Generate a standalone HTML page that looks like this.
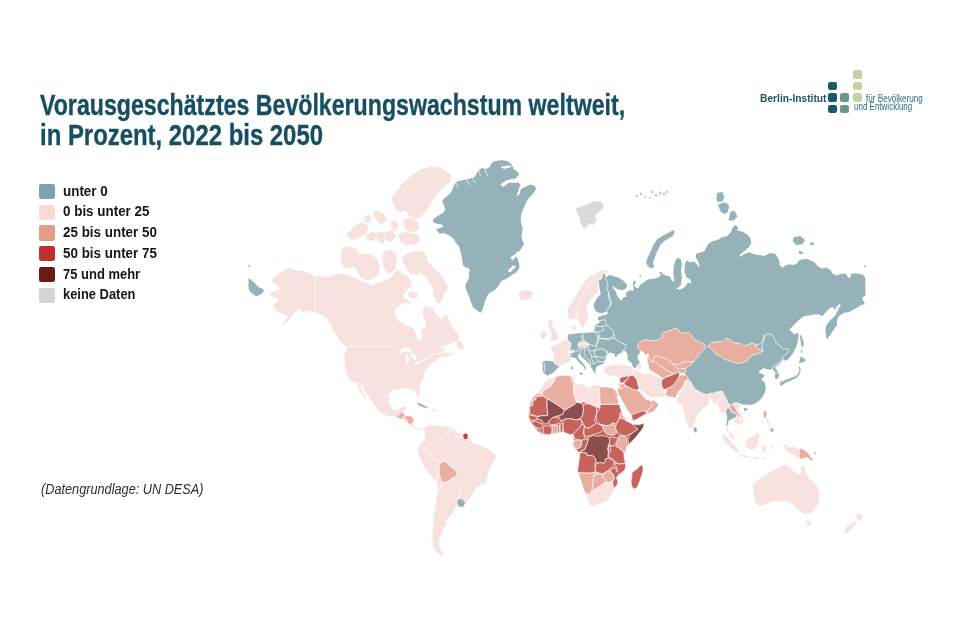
<!DOCTYPE html>
<html lang="de">
<head>
<meta charset="utf-8">
<title>Vorausgeschätztes Bevölkerungswachstum weltweit</title>
<style>
html,body{margin:0;padding:0;background:#fff;}
body{width:960px;height:640px;position:relative;overflow:hidden;font-family:"Liberation Sans",sans-serif;}
#map{position:absolute;left:0;top:0;width:960px;height:640px;}
#map path{stroke:#fff;stroke-width:0.7;stroke-linejoin:round;}
#map path.n{stroke:none;}
#map path.l{fill:none;stroke:#fff;stroke-linecap:round;}
.title{position:absolute;left:39.5px;top:0;margin:0;font-weight:bold;font-size:29px;line-height:32px;color:#174e62;-webkit-text-stroke:0.35px #174e62;white-space:nowrap;}
.title span{position:absolute;left:0;display:block;transform-origin:0 0;}
.title .l1{top:89px;transform:scaleX(0.7985);}
.title .l2{top:119.2px;transform:scaleX(0.8243);}
.legend{position:absolute;left:39px;top:183.8px;margin:0;padding:0;list-style:none;}
.legend li{height:20.8px;position:relative;white-space:nowrap;}
.legend i{position:absolute;left:0;top:0;width:15.5px;height:15.3px;border-radius:2.2px;display:block;}
.legend span{position:absolute;left:24.3px;top:-1.3px;font-size:14.5px;line-height:17px;font-weight:bold;color:#161616;transform-origin:0 0;transform:scaleX(0.925);display:block;}
.foot{position:absolute;left:40.5px;top:481.3px;font-style:italic;font-size:14px;line-height:17px;color:#2e2e2e;white-space:nowrap;transform-origin:0 0;transform:scaleX(0.908);}
.logo{position:absolute;left:0;top:0;}
.logo b{position:absolute;display:block;width:9px;height:8.5px;border-radius:2.2px;}
.logo .t1{position:absolute;left:760.2px;top:91.7px;font-size:11.5px;line-height:13px;font-weight:bold;color:#1d5468;white-space:nowrap;transform-origin:0 0;transform:scaleX(0.89);}
.logo .t2{position:absolute;left:865.6px;top:92px;font-size:10.5px;line-height:12px;color:#2d6d80;white-space:nowrap;transform-origin:0 0;transform:scaleX(0.773);}
.logo .t3{position:absolute;left:853.8px;top:100.3px;font-size:10.5px;line-height:12px;color:#2d6d80;white-space:nowrap;transform-origin:0 0;transform:scaleX(0.762);}
</style>
</head>
<body>
<svg id="map" viewBox="0 0 960 640" width="960" height="640">
<path class="n" d="M605.6,277.1L606.9,276.8L607.9,275.7L610.0,275.0L612.5,275.7L614.6,276.8L617.4,277.1L620.2,278.5L623.1,280.6L623.8,281.3L625.5,282.9L626.6,284.3L627.1,286.0L626.6,287.6L625.2,289.0L623.4,290.0L621.0,290.0L618.7,289.5L616.3,288.6L614.0,287.1L611.9,286.2L613.0,288.1L614.7,290.2L616.1,292.1L616.6,294.4L616.8,296.8L617.7,298.4L619.4,299.6L621.0,300.3L622.4,299.6L622.9,298.2L624.1,297.2L625.7,297.0L626.6,296.1L625.9,294.4L626.2,293.0L627.3,291.8L629.0,290.7L630.2,290.0L631.6,290.7L632.7,291.1L633.4,289.5L633.7,287.6L633.2,285.7L632.7,284.1L633.2,282.2L633.7,280.8L634.6,280.6L635.8,281.5L636.0,282.7L634.8,283.6L634.1,285.0L634.8,286.4L636.0,287.6L637.4,288.1L638.8,287.4L639.5,285.7L640.7,284.6L642.3,283.4L644.0,282.2L645.4,281.0L646.0,280.6L648.4,279.6L650.0,278.9L654.1,278.8L658.3,277.4L661.1,275.3L659.0,272.5L661.1,271.8L662.5,273.9L665.4,275.3L670.0,276.7L671.6,280.3L674.4,282.2L673.4,273.8L673.4,268.1L675.3,260.6L678.1,257.8L680.9,259.7L681.9,264.4L680.9,270.0L681.9,277.5L680.9,285.0L676.3,288.8L680.0,289.7L684.7,286.9L688.4,282.2L691.3,284.1L690.3,279.4L686.6,277.5L684.7,271.9L684.7,264.4L686.6,260.6L690.3,262.5L694.1,261.6L696.9,264.4L699.7,268.1L698.8,262.5L695.9,257.8L695.9,254.1L700.6,252.2L704.4,251.3L706.3,247.5L708.1,243.8L712.8,240.9L717.5,240.0L722.2,237.2L726.9,236.3L730.6,232.5L732.5,227.8L735.3,225.0L738.1,226.9L737.2,230.6L741.9,231.6L747.5,234.4L750.3,238.1L751.3,242.8L749.4,246.6L745.6,250.3L741.9,253.1L738.1,256.9L740.9,255.9L744.7,254.1L749.4,252.2L753.1,254.1L758.8,255.0L764.4,255.9L770.0,253.1L775.6,254.1L778.4,258.8L779.9,262.5L779.0,264.2L782.5,267.7L785.3,265.6L788.8,264.2L793.1,264.9L797.3,263.5L798.3,260.7L800.0,260.0L806.2,258.8L812.5,261.2L814.9,262.8L817.7,266.3L821.9,268.4L826.1,267.7L830.3,269.8L832.5,273.4L836.0,275.5L840.9,274.1L845.8,273.4L847.9,276.9L850.0,278.3L851.4,273.4L857.1,273.4L862.7,274.8L865.2,277.6L865.5,295.2L862.0,298.0L864.1,302.2L864.8,304.3L861.3,305.0L857.1,307.8L852.8,309.9L849.3,312.1L844.4,312.8L841.6,314.2L838.8,316.3L837.4,319.1L836.7,321.9L837.1,324.7L835.3,327.5L833.2,330.3L831.0,333.9L828.9,336.7L826.8,339.5L825.8,334.6L825.4,330.3L826.1,326.1L828.2,322.6L831.0,319.8L833.9,317.0L836.0,314.2L837.4,311.3L838.8,308.5L840.2,305.7L840.9,304.3L838.8,304.3L836.7,307.1L834.6,309.9L833.2,307.1L830.3,307.8L827.5,310.6L824.7,313.5L821.9,316.3L819.1,314.2L815.6,314.2L812.1,314.9L808.5,315.6L803.6,316.3L800.1,319.1L796.1,322.8L792.6,326.3L789.1,329.8L791.9,332.0L794.7,334.8L796.8,332.7L798.7,334.1L798.3,337.8L797.9,340.6L797.2,343.4L796.5,346.3L795.1,349.1L793.7,351.9L791.9,354.7L790.2,356.8L788.4,358.9L786.7,360.3L784.9,360.7L783.5,359.6L770.0,370.0L700.0,350.0L640.0,350.0L613.0,345.0L613.0,318.0L610.0,311.0L607.0,300.0Z" fill="#96b2b9"/>
<path class="n" d="M783.5,359.6L782.8,359.3L781.7,361.0L780.3,362.8L778.9,364.2L777.5,365.2L776.1,366.3L775.0,367.4L775.7,368.8L776.8,370.2L777.9,371.6L778.6,373.3L778.9,375.4L778.6,377.2L777.5,378.6L776.1,379.0L775.0,377.9L774.9,375.8L775.3,373.7L774.7,371.6L773.6,370.2L772.6,368.8L772.2,367.7L771.2,368.1L769.8,367.0L768.4,366.3L767.0,365.9L765.6,366.3L764.1,367.4L762.7,368.8L761.0,369.8L759.2,370.9L758.9,372.3L760.3,373.3L762.0,373.7L763.4,374.4L764.5,375.8L763.4,377.2L762.0,378.6L761.3,380.0L763.8,381.2L765.2,384.0L765.9,387.5L765.2,391.0L763.8,394.6L761.7,398.1L758.8,400.9L756.0,403.0L752.5,404.4L749.0,405.1L745.5,404.4L742.0,404.4L739.8,403.0L736.2,403.8L731.2,405.0L727.5,403.8L726.2,399.5L723.8,397.0L720.0,394.5L715.0,396.8L710.0,396.0L703.8,394.2L698.8,391.8L693.8,388.0L690.0,383.0L685.0,376.2L685.0,365.0L677.5,352.5L715.0,340.0L765.0,335.0L790.0,340.0Z" fill="#96b2b9"/>
<path class="n" d="M605.6,277.1L605.5,274.3L604.1,273.3L602.7,274.3L602.0,277.1L600.6,279.6L598.4,280.3L597.4,279.9L598.1,281.7L598.8,284.5L599.5,287.3L599.8,290.1L600.6,292.9L600.2,295.1L598.4,296.5L596.3,299.3L594.9,302.1L593.9,304.9L594.2,307.0L593.9,306.3L595.0,310.5L597.8,312.6L601.3,313.3L605.6,311.9L608.4,312.6L606.3,314.7L602.8,315.4L598.5,316.8L597.8,319.6L599.9,321.7L598.5,323.2L594.3,326.0L595.0,328.8L594.3,329.5L594.7,333.0L592.2,332.3L585.2,333.0L582.4,333.0L580.2,333.0L575.3,333.7L571.1,334.1L569.0,334.4L568.0,334.5L567.7,337.3L568.0,340.8L568.7,345.0L569.4,348.5L569.8,352.8L569.9,356.3L570.3,357.1L571.6,357.8L573.3,357.5L575.4,358.1L576.7,359.6L578.1,361.3L579.6,363.0L581.3,364.3L583.0,366.0L584.3,368.1L584.7,369.8L585.7,369.3L585.5,367.2L584.3,365.1L582.2,362.6L580.1,360.5L578.4,358.4L577.8,356.3L578.1,354.1L580.1,355.0L581.7,356.7L583.0,358.1L584.7,359.6L586.4,361.3L588.1,362.6L589.3,363.9L590.2,365.5L591.0,367.2L592.3,368.9L593.1,370.6L594.4,372.3L595.0,374.4L595.7,373.1L595.3,371.0L596.1,369.8L595.7,368.1L596.9,366.8L598.6,365.5L600.7,364.7L602.8,363.9L604.1,363.0L604.5,361.3L605.4,359.2L606.2,357.1L607.5,355.0L608.8,353.3L610.0,352.5L612.1,352.9L614.2,354.1L615.1,355.4L615.1,356.9L616.6,356.9L616.9,355.2L618.9,354.1L621.0,352.9L622.7,351.6L624.4,350.8L626.1,351.6L626.9,353.7L628.0,355.4L627.2,358.4L629.1,361.3L631.0,362.2L631.9,363.1L632.4,365.9L634.7,368.3L636.1,367.8L637.1,365.9L638.5,364.1L639.9,362.7L638.9,360.8L637.5,358.4L637.5,356.1L639.4,353.3L650.0,330.0L620.0,300.0L604.0,274.0Z" fill="#96b2b9"/>
<path d="M542.0,361.9L544.1,360.5L548.3,360.5L553.2,361.2L558.1,361.9L560.9,363.3L559.5,366.1L557.4,368.9L555.3,371.0L553.2,373.2L550.4,374.6L547.6,376.0L545.5,374.6L543.4,373.9L542.0,370.3L542.4,366.1Z" fill="#96b2b9"/>
<path d="M579.6,372.7L582.6,373.1L582.2,374.4L580.1,374.0Z" fill="#96b2b9" style="stroke:#96b2b9;stroke-width:0.5"/>
<path d="M571.6,366.4L572.9,366.4L572.9,369.3L571.8,369.3Z" fill="#96b2b9" style="stroke:#96b2b9;stroke-width:0.5"/>
<path d="M568.3,318.9L567.6,314.7L566.9,310.5L569.0,306.3L571.8,302.1L574.6,297.8L577.4,292.9L580.2,288.0L583.1,283.8L585.9,279.5L590.1,275.3L594.3,272.5L592.8,276.1L595.6,274.0L598.4,271.8L601.3,270.4L604.1,269.4L606.9,269.7L609.0,270.8L607.9,272.6L605.8,273.3L604.1,272.9L602.7,274.0L602.0,277.1L600.6,279.6L598.4,280.3L597.4,279.9L598.1,281.7L598.8,284.5L597.8,292.2L595.0,295.0L592.2,298.5L589.4,302.8L587.3,306.3L586.9,310.5L588.0,314.7L589.4,317.5L587.3,320.3L585.2,323.2L584.5,326.7L582.4,328.1L580.2,326.0L578.8,322.5L577.4,318.9L576.0,316.1L575.3,320.3L573.2,319.6L571.1,318.9Z" fill="#f8e2e0"/>
<path class="l" d="M576.0,316.1L577.4,311.9L578.1,306.3L580.2,300.6L582.4,295.0L585.2,289.4L588.7,284.5L592.2,280.2L595.0,278.1L597.8,276.7" stroke-width="0.8"/>
<path class="l" d="M605.5,277.1L605.8,279.6L607.2,282.4L607.9,284.5L606.9,287.3L607.6,290.1L608.6,292.9L608.3,295.8L608.6,298.6L610.0,301.4L611.1,303.5L610.4,305.6L609.7,307.0" stroke-width="0.8"/>
<path class="l" d="M608.4,292.2L609.8,297.1L611.2,302.1L609.8,305.6L607.7,309.1L606.3,311.9" stroke-width="0.8"/>
<circle cx="640.3" cy="276.4" r="0.9" fill="#96b2b9"/>
<path d="M550.9,346.5L555.9,344.3L560.6,342.4L564.4,339.4L568.1,340.1L571.1,343.1L570.4,347.8L568.5,351.6L570.0,355.3L571.9,359.1L570.0,361.9L566.3,363.0L562.5,364.9L558.8,365.8L555.0,363.9L553.1,360.0L554.1,355.3L552.2,351.6L550.1,349.1Z" fill="#f8e2e0"/>
<path d="M548.3,321.1L551.1,319.7L552.5,322.5L551.8,326.0L553.9,328.8L556.0,331.7L558.1,335.2L558.8,338.7L556.7,340.1L553.2,340.8L550.4,341.5L551.8,338.7L551.1,335.9L552.5,333.8L550.4,331.7L549.7,328.1L548.3,325.3Z" fill="#f8e2e0" style="stroke:#f8e2e0;stroke-width:0.5"/>
<path d="M541.3,333.1L544.1,330.9L546.6,332.1L546.9,335.2L544.8,338.0L542.0,338.7L540.6,335.9Z" fill="#f8e2e0" style="stroke:#f8e2e0;stroke-width:0.5"/>
<path d="M578.1,343.2L580.1,341.9L583.0,341.5L586.0,342.8L588.5,344.0L587.7,345.7L585.1,346.6L582.2,347.0L579.6,346.1L578.1,344.9Z" fill="#f8e2e0"/>
<path d="M569.5,350.8L571.6,349.9L573.7,350.3L574.1,352.0L572.0,352.9L569.9,352.5Z" fill="#f8e2e0"/>
<path d="M572.2,326.0L575.0,325.3L575.7,329.5L572.9,330.2Z" fill="#f8e2e0" style="stroke:#f8e2e0;stroke-width:0.5"/>
<path d="M518.8,294.1L520.9,292.0L524.4,290.6L528.6,290.6L532.1,292.0L532.8,294.8L530.0,297.6L525.8,299.7L522.3,300.0L519.5,297.6Z" fill="#f8e2e0" style="stroke:#f8e2e0;stroke-width:0.5"/>
<path d="M555.0,377.0L559.2,375.9L563.5,375.6L567.7,375.3L571.2,376.3L574.0,375.6L575.4,378.4L574.7,381.3L576.1,384.1L580.3,384.1L584.6,385.5L588.1,387.6L591.6,386.9L594.4,384.8L597.9,385.5L601.4,386.9L605.7,387.2L609.9,387.6L613.4,388.3L614.8,391.1L614.6,387.5L616.0,391.0L617.4,395.2L618.1,399.5L618.8,403.7L620.2,407.9L621.7,412.1L623.1,415.6L625.2,418.5L628.0,421.3L630.8,423.4L632.2,424.1L637.8,424.8L644.2,423.4L643.5,426.9L641.3,430.4L638.5,433.9L635.0,438.2L631.5,441.7L628.7,444.5L627.5,446.2L626.1,449.7L624.7,453.2L624.0,456.7L624.7,460.2L625.8,463.8L625.4,467.3L624.0,470.8L621.2,472.9L618.4,475.0L616.3,477.8L617.7,480.6L617.7,484.2L615.6,486.3L614.2,488.4L613.2,491.9L611.3,495.4L608.5,498.9L605.0,501.7L600.8,503.2L596.6,504.6L592.4,506.0L589.5,505.3L588.1,501.7L586.7,497.5L585.3,494.0L583.9,489.8L582.5,485.6L581.1,481.3L579.7,477.1L578.0,472.9L577.6,469.4L578.3,465.2L579.0,460.2L579.7,456.7L579.0,452.5L576.9,451.1L574.1,447.6L572.9,444.1L573.4,440.6L573.3,436.8L571.9,434.0L569.1,434.7L566.3,433.3L563.5,431.9L559.9,432.6L555.7,433.3L551.5,434.0L547.3,434.7L543.8,434.7L540.9,433.3L538.1,431.2L535.3,428.4L533.2,425.6L531.1,422.8L529.0,419.2L528.3,415.7L529.7,412.2L529.0,408.0L529.7,404.5L531.1,400.2L533.2,396.7L536.0,393.9L538.8,391.1L541.7,387.6L543.8,384.1L545.9,380.6L548.7,378.4L552.2,378.4Z" fill="#c8625d"/>
<path d="M555.0,377.0L552.2,378.4L548.7,378.4L545.9,380.6L543.8,384.1L541.7,387.6L538.8,391.1L536.7,393.9L542.4,393.2L543.1,391.1L546.6,389.0L550.1,386.9L552.2,384.1L554.3,381.3Z" fill="#f8e2e0"/>
<path d="M536.7,393.9L533.2,396.7L531.1,400.2L529.7,404.5L529.0,405.9L532.5,405.5L533.2,400.2L536.0,399.8L536.7,396.0L542.4,395.3L542.4,393.2Z" fill="#e8afa0"/>
<path d="M554.3,381.3L552.2,384.1L550.1,386.9L546.6,389.0L543.1,391.1L542.4,395.3L547.3,398.8L552.2,401.7L557.8,405.2L562.8,408.7L566.3,409.4L569.8,407.3L574.7,404.5L576.8,402.4L575.4,398.1L574.0,393.9L573.3,389.7L574.0,385.5L572.6,382.0L571.9,378.4L571.2,376.3L567.7,375.3L563.5,375.6L559.2,375.9L555.0,377.0Z" fill="#e8afa0"/>
<path d="M571.2,376.3L574.0,375.6L575.4,378.4L574.7,381.3L576.1,384.1L574.7,385.5L574.0,383.4L572.6,379.8Z" fill="#f8e2e0"/>
<path d="M576.1,384.8L580.3,384.1L584.6,385.5L588.1,387.6L591.6,386.9L594.4,384.8L597.9,385.5L599.3,387.6L599.8,392.5L600.0,398.1L600.0,408.0L596.5,407.3L588.8,403.8L583.2,401.7L580.3,403.1L576.8,402.4L575.4,398.1L574.0,393.9L573.3,389.7L574.0,385.5Z" fill="#f8e2e0"/>
<path d="M599.3,387.6L601.4,386.9L605.7,387.2L609.9,387.6L613.4,388.3L614.8,391.1L615.5,393.9L616.9,397.4L618.3,400.9L619.0,404.2L600.0,404.2L599.8,392.5Z" fill="#e8afa0"/>
<path d="M536.0,396.7L542.4,396.0L547.3,398.8L546.9,404.5L547.3,410.8L548.0,415.0L545.9,415.7L541.7,415.7L537.4,416.4L533.9,415.0L531.1,414.3L529.7,412.2L529.7,406.6L532.5,405.5L533.2,400.2L536.0,399.8Z" fill="#c8625d"/>
<path d="M547.3,398.8L552.2,401.7L557.8,405.2L562.8,408.7L564.2,410.8L562.8,414.3L559.2,415.7L555.7,416.4L552.2,417.8L550.1,419.9L548.0,422.8L545.2,424.2L543.1,422.8L541.7,419.9L537.4,419.2L537.4,417.1L541.7,415.7L545.9,415.7L548.0,415.0L547.3,410.8L546.9,404.5Z" fill="#8c4e4c"/>
<path d="M566.3,409.4L569.8,407.3L574.7,404.5L576.8,402.4L580.3,403.1L583.2,404.5L583.4,410.8L582.5,415.7L580.3,418.5L576.8,419.9L572.6,419.2L568.4,418.5L564.9,419.2L561.3,420.6L558.5,419.2L559.2,415.7L562.8,414.3L564.2,410.8Z" fill="#8c4e4c"/>
<path d="M583.2,404.5L588.8,403.8L596.5,407.3L596.9,412.2L595.8,416.4L594.4,419.9L595.8,423.5L593.0,425.6L589.5,427.7L586.7,428.4L584.6,426.3L583.2,423.5L581.7,420.6L580.3,418.5L582.5,415.7L583.4,410.8Z" fill="#c8625d"/>
<path d="M600.0,404.5L619.0,404.5L620.4,408.0L621.8,411.5L621.1,415.0L619.0,418.5L617.6,421.3L614.8,424.2L612.7,422.8L609.2,425.6L605.7,425.6L602.1,424.9L599.3,423.5L597.2,421.3L596.1,417.8L596.9,412.2L600.0,408.0Z" fill="#c8625d"/>
<path d="M564.9,419.2L568.4,418.5L572.6,419.2L576.8,419.9L580.3,419.2L581.7,422.1L581.0,425.6L578.9,428.4L576.1,431.2L573.3,434.0L569.8,434.7L566.3,433.3L563.5,431.9L562.8,427.7L562.8,423.5L563.5,420.6Z" fill="#c8625d"/>
<path d="M550.1,419.9L552.2,417.8L555.7,417.1L559.2,418.5L561.3,420.6L559.2,423.5L555.7,424.2L552.2,424.9L549.4,424.2L548.7,422.1Z" fill="#c8625d"/>
<path d="M528.3,415.7L532.5,415.3L537.4,417.1L537.4,419.2L532.5,420.6L529.7,419.2Z" fill="#c8625d"/>
<path d="M531.1,422.1L535.3,421.3L539.5,422.8L543.1,424.2L541.7,427.7L538.8,429.1L536.0,427.0L533.2,425.6Z" fill="#c8625d"/>
<path d="M535.3,428.4L538.8,429.1L541.7,431.9L540.9,433.3L538.1,431.2Z" fill="#c8625d"/>
<path d="M543.8,426.3L548.0,425.6L551.5,426.3L552.2,430.5L551.5,434.0L547.3,434.7L543.8,434.0L543.1,429.8Z" fill="#c8625d"/>
<path d="M552.2,425.6L557.1,424.9L557.8,429.1L557.1,433.3L552.2,434.0L552.2,430.5Z" fill="#e8afa0"/>
<path d="M557.8,425.6L559.5,425.6L559.5,432.6L557.8,433.0Z" fill="#c8625d"/>
<path d="M559.9,424.2L562.8,423.5L562.8,431.9L560.4,432.6Z" fill="#c8625d"/>
<path d="M578.9,428.4L581.0,425.6L583.2,424.2L584.6,426.3L583.9,429.8L583.2,433.3L584.6,436.8L586.0,439.6L581.7,440.3L578.2,439.6L574.7,438.9L574.0,436.1L573.3,434.0L576.1,431.2Z" fill="#c8625d"/>
<path d="M584.6,426.3L586.7,428.4L589.5,427.7L593.0,425.6L595.8,423.5L599.3,424.2L602.1,425.6L603.6,429.1L601.4,431.9L597.9,433.3L594.4,434.0L591.6,435.4L588.1,436.1L585.3,436.8L583.9,433.3L583.9,429.8Z" fill="#c8625d"/>
<path d="M599.3,424.2L602.1,424.9L605.7,425.6L609.2,425.6L612.7,422.8L614.8,424.2L616.2,427.7L617.6,431.2L615.5,434.0L612.0,435.4L608.5,434.7L605.7,433.3L603.6,429.1L602.1,425.6Z" fill="#e8afa0"/>
<path d="M618.8,419.2L621.7,417.8L625.2,419.9L628.7,422.0L632.2,424.1L635.0,426.9L637.8,429.0L635.0,431.1L632.2,433.2L628.7,434.6L625.2,436.0L621.7,435.3L618.8,433.9L616.7,431.1L615.3,427.6L616.7,423.4Z" fill="#c8625d"/>
<path d="M620.2,412.8L621.7,412.1L623.1,415.6L625.2,418.5L628.0,421.3L626.9,421.7L624.5,419.6L621.7,417.8L619.5,418.2Z" fill="#e8afa0"/>
<path d="M632.2,424.1L637.8,424.8L644.2,423.4L643.5,426.9L641.3,430.4L638.5,433.9L635.0,438.2L631.5,441.7L628.7,444.5L628.0,439.6L629.4,435.3L632.2,433.2L635.0,431.1L637.8,429.0L635.0,426.9Z" fill="#8c4e4c"/>
<path d="M615.6,443.4L617.7,439.8L619.1,436.3L621.9,435.6L626.1,437.0L626.8,441.3L627.2,445.5L626.1,449.7L624.0,453.2L621.9,450.4L618.4,447.6Z" fill="#e8afa0"/>
<path d="M609.2,437.7L612.8,437.0L616.3,437.7L617.7,439.8L615.6,443.4L614.2,445.5L609.9,446.2L609.2,442.0Z" fill="#c8625d"/>
<path d="M588.8,437.0L592.4,435.6L597.3,436.3L602.2,435.6L606.4,436.3L609.2,437.7L609.9,441.3L608.5,444.8L607.8,448.3L608.5,452.5L607.8,456.0L608.5,458.1L605.7,458.8L605.0,461.7L603.6,463.8L600.8,462.4L598.0,463.1L595.9,461.7L595.2,458.1L593.1,456.0L590.2,455.3L587.4,456.0L586.7,453.2L583.2,452.5L579.7,452.5L581.1,451.1L584.6,449.7L586.0,446.2L587.4,442.7L588.1,439.1Z" fill="#8c4e4c"/>
<path d="M579.7,453.2L583.2,452.5L586.7,453.2L587.4,456.0L590.2,455.3L593.1,456.0L595.2,458.1L595.9,461.7L594.5,464.5L595.2,468.0L595.2,472.2L590.2,472.9L583.9,472.9L578.0,472.5L577.6,469.4L578.3,465.2L579.0,460.2L579.7,456.7Z" fill="#c8625d"/>
<path d="M595.9,464.5L598.0,463.1L600.8,462.4L603.6,463.8L605.0,461.7L605.7,458.8L608.5,458.1L611.3,459.5L614.2,461.7L613.5,465.9L611.3,468.0L608.5,470.1L605.7,472.2L602.2,473.6L598.7,472.9L595.9,471.5L595.2,468.0Z" fill="#c8625d"/>
<path d="M609.9,446.2L614.2,445.5L618.4,447.6L621.9,450.4L624.0,453.2L624.0,456.7L624.7,460.2L625.4,463.1L621.9,463.8L618.4,463.8L615.6,461.7L612.1,458.8L609.2,457.4L608.5,452.5L607.8,449.0Z" fill="#c8625d"/>
<path d="M614.2,462.4L618.4,464.0L621.9,463.8L625.4,463.5L625.8,467.3L624.0,470.8L621.2,472.9L618.4,475.0L616.3,477.8L617.7,480.6L617.7,484.2L615.6,486.3L614.2,488.4L612.8,486.3L612.8,482.1L614.2,478.5L613.5,475.0L611.3,472.2L609.9,470.1L613.5,468.0L615.6,467.3L616.3,470.8L617.7,472.2L617.0,468.0L615.6,465.2Z" fill="#c8625d"/>
<path d="M602.9,474.3L605.7,472.2L608.5,470.8L611.3,472.2L613.5,475.0L614.2,478.5L612.1,481.3L608.5,482.8L605.7,481.3L603.6,478.5Z" fill="#e8afa0"/>
<path d="M593.8,475.0L598.7,473.6L602.2,474.3L603.6,478.5L605.7,481.3L602.9,484.2L600.1,486.3L596.6,488.4L593.1,490.5L592.4,486.3L593.1,480.6Z" fill="#e8afa0"/>
<path d="M578.0,472.9L583.9,473.3L590.2,473.3L595.2,472.5L598.7,473.3L593.8,475.0L593.1,480.6L592.4,486.3L591.7,491.9L588.8,494.0L586.0,494.0L583.9,489.8L582.5,485.6L581.1,481.3L579.7,477.1Z" fill="#e8afa0"/>
<path d="M586.0,494.4L588.8,494.0L591.7,491.9L593.1,490.5L596.6,488.4L600.1,486.3L602.9,484.2L605.7,481.8L608.5,482.8L612.1,481.8L613.2,486.3L613.5,490.5L613.2,491.9L611.3,495.4L608.5,498.9L605.0,501.7L600.8,503.2L596.6,504.6L592.4,506.0L589.5,505.3L588.1,501.7L586.7,497.5Z" fill="#f8e2e0"/>
<circle cx="605.3" cy="496.1" r="1.6" fill="#f8e2e0" stroke="#fff" stroke-width="0.5"/>
<path d="M640.9,465.5L642.6,466.9L642.2,471.5L640.9,475.7L639.6,479.9L638.2,483.7L636.7,487.3L634.0,488.4L632.2,486.0L631.7,481.3L632.6,477.1L632.3,473.3L634.8,471.1L637.8,469.0L639.5,466.9Z" fill="#c8625d" style="stroke:#c8625d;stroke-width:0.6"/>
<path d="M573.4,440.6L577.6,439.8L581.1,440.6L581.8,444.1L580.4,447.6L576.9,449.0L574.1,447.6L572.9,444.1Z" fill="#e8afa0"/>
<path d="M581.1,440.6L585.3,439.1L588.1,439.1L587.4,442.7L586.0,446.2L584.6,449.7L581.1,451.1L579.0,452.5L576.9,451.1L576.9,449.0L580.4,447.6L581.8,444.1Z" fill="#c8625d"/>
<path d="M608.5,446.2L610.6,446.2L610.6,451.8L608.5,452.5Z" fill="#c8625d"/>
<path d="M603.8,368.3L605.2,367.4L607.5,365.9L610.3,365.0L613.1,364.5L616.9,364.1L620.6,364.5L624.4,365.0L628.1,365.5L631.9,365.9L633.3,367.4L634.4,369.7L634.7,372.5L632.6,374.4L629.5,375.3L627.2,375.7L624.4,376.5L621.4,377.0L619.3,378.1L617.8,376.8L615.0,376.3L612.2,375.7L609.4,376.1L607.0,375.1L605.2,373.3L603.8,371.1Z" fill="#f8e2e0"/>
<path d="M603.3,365.0L605.2,364.5L605.8,366.4L604.2,367.1Z" fill="#f8e2e0"/>
<path d="M636.1,367.8L637.1,365.9L638.5,364.1L640.3,363.1L641.3,365.9L641.7,368.8L640.3,370.2L638.0,369.7Z" fill="#f8e2e0"/>
<path d="M632.2,368.5L633.6,372.0L632.2,375.1L635.0,377.0L637.1,380.5L637.8,384.7L639.2,388.2L641.3,390.3L644.2,392.4L647.0,395.2L649.8,396.7L651.9,398.8L654.0,397.4L656.8,397.1L661.0,397.6L664.6,397.1L665.3,393.1L663.9,390.3L662.5,387.5L661.7,384.0L662.5,379.8L659.6,377.7L656.1,375.6L652.6,374.1L649.1,372.7L645.6,373.4L642.8,374.1L639.9,371.3L636.4,370.6L634.3,369.2Z" fill="#f8e2e0"/>
<path d="M620.2,385.4L624.5,386.1L628.7,387.5L633.6,389.6L637.8,390.3L639.9,392.4L642.8,395.2L644.9,398.1L647.0,400.2L648.4,398.8L649.8,400.9L652.6,400.2L654.7,400.9L657.5,403.0L658.9,405.1L656.8,407.9L654.7,410.0L652.6,412.1L649.8,413.5L647.0,412.8L644.2,414.9L640.6,417.1L637.1,419.2L633.6,420.6L632.2,419.2L630.8,414.9L628.7,412.1L626.6,408.6L624.5,405.1L622.4,401.6L620.2,397.4L618.1,393.1L617.4,389.6Z" fill="#e8afa0"/>
<path d="M631.5,414.9L635.0,413.5L639.2,412.1L642.8,410.7L646.3,412.1L647.0,413.5L644.2,414.9L640.6,417.1L637.1,419.2L633.6,420.6L632.2,419.2Z" fill="#c8625d"/>
<path class="l" d="M647.0,412.8L648.4,409.3L651.2,407.2L652.6,403.7L649.8,400.9" stroke-width="0.8"/>
<path d="M619.5,379.1L621.7,377.0L625.9,376.3L629.4,375.6L628.0,378.4L625.9,380.5L623.1,382.6L620.2,383.3Z" fill="#c8625d"/>
<path d="M629.4,375.6L632.2,375.1L635.0,377.0L637.1,380.5L637.8,384.7L639.2,388.2L637.1,390.3L633.6,389.6L629.4,387.5L625.2,385.4L623.8,383.3L625.9,380.5L628.0,378.4Z" fill="#c8625d"/>
<path d="M620.2,384.0L623.8,383.3L625.2,385.7L623.1,388.2L619.8,388.9Z" fill="#e8afa0"/>
<path d="M618.1,383.0L620.0,383.0L619.7,388.6L618.6,388.2Z" fill="#e8afa0"/>
<path d="M637.7,345.2L640.6,341.7L644.8,339.6L649.7,340.3L653.9,341.0L658.1,339.6L661.7,337.5L661.7,334.0L665.2,331.9L670.1,330.5L675.0,328.4L678.5,329.8L681.3,332.6L685.6,333.3L688.4,331.9L691.2,334.7L694.0,338.9L697.5,341.0L701.0,342.4L704.6,344.5L706.7,346.7L703.2,350.2L700.3,352.3L698.9,355.8L696.1,358.6L694.0,361.4L691.9,364.2L688.4,366.3L685.6,368.5L685.6,371.3L684.2,373.4L680.6,373.4L677.8,372.0L675.0,373.4L672.2,374.8L668.7,375.5L665.9,376.9L663.8,379.0L662.4,378.3L658.8,375.5L655.3,373.4L651.8,371.3L649.0,369.2L648.3,365.6L648.3,363.5L646.9,360.0L647.6,357.2L649.0,355.1L647.6,353.7L645.5,355.8L643.4,352.3L639.8,350.2L637.7,348.1Z" fill="#e8afa0"/>
<path class="l" d="M647.6,357.2L649.7,358.6L651.1,362.1L653.2,361.4L653.9,356.5L657.4,355.8L661.7,357.2L665.2,358.6L668.7,360.0L671.5,362.8L675.0,364.2L678.5,364.9L682.1,362.8L686.3,361.4L690.5,362.1L694.0,361.4" stroke-width="0.8"/>
<path class="l" d="M653.2,361.4L656.7,362.8L660.2,365.6L663.8,368.5L667.3,370.6L670.8,372.0L673.6,373.4" stroke-width="0.8"/>
<path class="l" d="M671.5,362.8L673.6,365.6L676.4,367.8L679.2,369.2L682.1,368.5L685.6,368.5" stroke-width="0.8"/>
<path d="M661.8,380.0L665.9,377.2L670.1,375.8L674.3,374.1L679.0,371.8L679.9,375.5L678.4,379.4L676.1,382.5L673.9,385.3L671.1,387.5L667.3,389.0L663.5,389.6L661.9,386.5L661.5,383.2Z" fill="#c8625d"/>
<path d="M679.2,375.5L682.8,374.8L686.3,375.5L688.4,378.3L686.3,381.1L684.2,384.6L682.1,388.2L679.2,391.0L677.1,394.5L675.7,398.0L672.2,397.3L668.0,396.6L665.2,395.2L665.9,391.7L667.3,388.2L670.8,386.7L673.6,384.6L675.7,381.8L677.8,379.0Z" fill="#e8afa0"/>
<path d="M708.0,346.0L711.6,343.0L717.0,341.7L722.8,341.7L726.4,338.2L729.0,339.0L731.3,341.7L736.0,343.0L741.0,343.8L743.4,346.0L748.3,344.6L752.5,343.2L756.0,344.6L757.4,348.0L760.0,349.5L763.0,351.0L760.0,353.0L756.7,353.8L753.0,355.0L749.7,357.3L747.0,360.8L743.4,362.2L739.0,363.6L732.7,362.0L728.5,360.7L724.0,359.0L721.0,356.5L717.0,355.0L713.7,352.0L711.6,348.8Z" fill="#e8afa0"/>
<path d="M684.8,381.3L688.3,379.8L691.1,382.0L692.5,385.5L694.6,389.0L698.1,391.1L702.4,393.2L706.6,394.6L710.1,393.2L713.6,393.2L717.8,391.8L722.1,391.1L724.2,393.9L722.8,397.4L719.9,399.5L717.8,402.4L715.0,404.5L712.9,403.8L711.5,400.2L710.1,398.1L708.0,400.2L709.4,403.8L707.3,405.2L704.5,408.0L701.7,410.8L698.8,413.6L697.0,416.4L695.7,419.9L694.5,424.2L692.8,427.7L690.5,429.4L688.3,427.0L686.9,423.5L685.8,419.9L684.6,416.4L683.4,412.2L682.4,408.0L682.0,404.5L679.1,403.8L676.3,401.7L677.0,398.1L679.1,396.0L677.7,393.9L680.6,391.1L682.7,387.6L684.1,384.1Z" fill="#f8e2e0"/>
<path d="M717.8,402.4L719.9,399.5L722.8,397.4L724.9,396.0L726.3,398.8L727.7,402.4L729.8,405.2L728.4,407.3L726.3,408.7L725.6,411.5L726.3,415.0L727.0,418.5L726.3,421.3L725.1,417.8L724.2,414.3L722.8,412.2L720.6,413.6L719.2,410.8L718.5,407.3L717.1,405.2Z" fill="#f8e2e0"/>
<path d="M726.3,408.7L728.4,407.7L730.5,409.4L731.9,412.2L734.7,412.9L736.8,415.0L736.1,417.8L733.3,418.5L731.2,419.9L729.1,420.6L728.4,424.2L727.0,426.3L727.7,429.8L729.1,431.9L728.0,432.6L726.6,429.8L726.0,425.6L726.3,421.3L727.0,418.5L726.3,415.0L725.6,411.5Z" fill="#96b2b9"/>
<path d="M729.8,405.2L732.6,404.5L734.7,405.9L736.1,408.7L737.5,411.5L739.6,414.3L740.3,417.1L738.2,417.8L736.8,415.0L734.7,412.9L731.9,412.2L730.5,409.4L729.1,407.3Z" fill="#e8afa0"/>
<path d="M732.6,403.8L736.1,402.4L739.6,403.8L741.0,405.9L738.9,408.0L739.6,410.8L741.7,413.6L743.2,417.1L743.9,420.6L742.5,423.5L739.6,424.9L738.2,426.3L738.9,423.5L741.0,421.3L741.0,417.8L739.6,414.3L737.5,411.5L736.1,408.7L734.7,405.9Z" fill="#f8e2e0"/>
<path d="M733.3,418.5L736.1,417.8L738.2,417.8L740.3,417.8L741.0,420.6L739.6,423.5L736.8,424.2L734.0,422.8L733.3,420.6Z" fill="#f8e2e0"/>
<path d="M743.9,408.7L746.7,408.0L747.1,410.1L744.6,411.1Z" fill="#96b2b9" style="stroke:#96b2b9;stroke-width:0.5"/>
<path d="M730.0,431.9L731.9,433.8L733.8,436.9L734.4,439.4L732.5,438.8L730.6,435.6L729.0,432.8Z" fill="#f8e2e0" style="stroke:#f8e2e0;stroke-width:0.5"/>
<path d="M721.9,435.0L724.4,435.6L727.5,438.1L730.6,441.2L733.8,444.4L736.2,446.9L738.1,449.4L738.5,451.9L736.2,451.9L733.8,450.0L730.6,447.5L727.5,444.4L725.0,441.2L722.8,438.1Z" fill="#f8e2e0" style="stroke:#f8e2e0;stroke-width:0.5"/>
<path d="M744.8,441.9L747.5,440.0L750.6,438.1L753.8,436.2L756.2,433.8L758.1,433.1L759.4,435.0L758.8,438.1L758.1,441.2L757.5,444.4L755.6,447.5L752.5,449.4L749.4,448.8L746.9,446.9L745.6,444.4Z" fill="#f8e2e0" style="stroke:#f8e2e0;stroke-width:0.5"/>
<path d="M739.4,454.4L743.1,455.0L747.5,456.0L750.6,456.9L750.4,457.8L746.9,457.2L743.1,456.5L739.6,455.5Z" fill="#f8e2e0" style="stroke:#f8e2e0;stroke-width:0.5"/>
<path d="M751.9,457.2L755.0,457.5L758.1,457.8L758.0,458.4L755.0,458.2L752.0,458.0Z" fill="#f8e2e0" style="stroke:#f8e2e0;stroke-width:0.5"/>
<path d="M762.5,458.1L765.0,457.5L766.2,458.1L764.4,459.0Z" fill="#f8e2e0" style="stroke:#f8e2e0;stroke-width:0.5"/>
<path d="M761.9,446.2L763.8,445.6L766.2,446.2L765.0,447.8L766.2,450.0L765.6,451.9L764.0,450.6L763.1,452.5L762.2,450.6L762.5,448.1Z" fill="#f8e2e0" style="stroke:#f8e2e0;stroke-width:0.5"/>
<path d="M771.2,446.2L772.5,445.6L773.1,448.1L771.9,448.8Z" fill="#f8e2e0" style="stroke:#f8e2e0;stroke-width:0.5"/>
<path d="M764.0,411.5L765.7,411.1L766.4,413.6L765.7,417.1L764.5,418.5L763.6,415.7Z" fill="#e8afa0" style="stroke:#e8afa0;stroke-width:0.5"/>
<path d="M770.2,429.1L772.7,427.7L773.8,429.8L772.4,431.9L770.6,431.6Z" fill="#e8afa0" style="stroke:#e8afa0;stroke-width:0.5"/>
<path d="M766.8,419.2L768.5,419.9L769.2,422.8L767.8,423.5L767.1,421.3Z" fill="#f8e2e0" style="stroke:#f8e2e0;stroke-width:0.5"/>
<path d="M769.2,424.2L771.0,424.9L770.6,426.6L769.3,426.0Z" fill="#f8e2e0" style="stroke:#f8e2e0;stroke-width:0.5"/>
<path d="M694.2,427.7L696.0,427.4L696.7,429.8L696.0,432.2L694.6,431.9L693.9,429.8Z" fill="#96b2b9" style="stroke:#96b2b9;stroke-width:0.5"/>
<path d="M800.0,357.5L801.4,357.2L803.5,358.6L805.6,360.0L804.2,361.4L802.8,362.4L801.1,362.1L799.7,362.8L798.6,362.1L800.0,360.7L800.4,358.9Z" fill="#96b2b9" style="stroke:#96b2b9;stroke-width:0.5"/>
<path d="M798.3,367.0L799.3,367.4L800.0,367.7L800.4,369.8L800.0,372.3L799.0,374.7L797.6,376.5L795.8,377.9L793.7,379.0L791.6,380.0L790.2,381.1L788.1,381.4L785.9,382.1L784.5,383.5L783.1,384.2L782.1,383.5L782.8,382.1L783.8,381.1L785.2,380.0L787.4,379.3L789.5,378.8L791.6,378.0L793.3,377.3L795.1,376.6L796.9,375.6L798.3,373.8L799.3,371.7L799.7,369.5Z" fill="#96b2b9" style="stroke:#96b2b9;stroke-width:0.5"/>
<path d="M800.7,335.0L801.8,337.1L802.8,339.9L803.5,342.7L803.2,345.6L802.1,347.3L801.4,345.6L801.1,342.7L800.7,339.9L800.0,337.1Z" fill="#96b2b9" style="stroke:#96b2b9;stroke-width:0.5"/>
<path d="M801.1,350.5L802.0,350.5L802.0,352.6L801.1,352.6Z" fill="#96b2b9" style="stroke:#96b2b9;stroke-width:0.5"/>
<path d="M780.4,381.9L782.3,381.6L782.9,384.0L781.8,385.8L780.4,384.7Z" fill="#96b2b9" style="stroke:#96b2b9;stroke-width:0.5"/>
<path class="l" d="M763.8,335.0L764.1,337.1L763.1,339.2L761.7,341.7L759.9,343.8L757.8,344.8L755.0,345.6" stroke-width="0.8"/>
<path class="l" d="M772.6,335.4L773.6,337.1L774.7,339.9L776.1,342.7L778.2,344.5L780.3,345.9L781.7,348.0L783.1,349.1L785.2,348.7L787.4,348.4L788.4,349.8L787.7,352.6L786.3,354.3L784.2,355.4L782.8,356.5L782.1,358.2L782.8,359.3" stroke-width="0.8"/>
<path class="l" d="M772.2,367.7L774.0,366.3L776.1,364.5L778.2,363.1L780.0,361.7L781.7,359.6L782.8,358.2" stroke-width="0.8"/>
<path class="l" d="M775.4,373.3L778.6,372.6" stroke-width="0.7"/>
<path class="l" d="M763.1,350.9L761.7,347.4L763.1,342.5L764.5,337.6L765.2,335.5L767.3,334.1L770.8,334.1L772.6,335.3" stroke-width="0.8"/>
<path d="M646.3,262.5L648.1,256.9L650.9,251.3L653.8,244.7L657.5,239.1L662.2,236.3L667.8,233.4L672.5,230.6L674.4,231.6L673.4,235.3L668.8,238.1L664.1,240.9L660.3,244.7L657.5,250.3L654.7,256.9L652.8,262.5L653.8,267.2L650.9,268.1L648.1,266.3Z" fill="#96b2b9" style="stroke:#96b2b9;stroke-width:0.5"/>
<path d="M717.5,193.1L722.2,192.2L724.1,196.9L722.2,201.6L717.5,201.6L716.6,197.8Z" fill="#96b2b9" style="stroke:#96b2b9;stroke-width:0.5"/>
<path d="M718.4,204.4L725.0,202.5L728.8,205.3L727.8,211.9L724.1,213.8L720.3,210.9Z" fill="#96b2b9" style="stroke:#96b2b9;stroke-width:0.5"/>
<path d="M730.6,211.9L734.4,210.9L737.2,216.6L733.4,220.3L728.8,220.3Z" fill="#96b2b9" style="stroke:#96b2b9;stroke-width:0.5"/>
<path d="M793.8,237.5L800.0,236.2L805.0,240.0L802.5,243.8L796.2,245.0L793.0,241.2Z" fill="#96b2b9" style="stroke:#96b2b9;stroke-width:0.5"/>
<path d="M810.0,242.5L813.8,243.0L813.8,245.0L810.5,244.5Z" fill="#96b2b9" style="stroke:#96b2b9;stroke-width:0.5"/>
<path d="M798.8,251.2L802.5,252.0L802.5,254.0L799.2,253.5Z" fill="#96b2b9" style="stroke:#96b2b9;stroke-width:0.5"/>
<path d="M248.8,278.8L251.2,280.0L255.0,283.8L258.8,287.5L262.5,288.8L263.8,291.2L261.2,293.8L258.8,295.0L256.2,296.2L252.5,293.8L250.0,291.2L248.8,288.8Z" fill="#96b2b9" style="stroke:#96b2b9;stroke-width:0.5"/>
<circle cx="249.5" cy="266.0" r="1.0" fill="#96b2b9"/>
<circle cx="865.0" cy="266.3" r="0.9" fill="#96b2b9"/>
<circle cx="637.0" cy="196.0" r="1.2" fill="#bcd0d6"/>
<circle cx="641.0" cy="194.0" r="1.4" fill="#bcd0d6"/>
<circle cx="645.0" cy="197.0" r="1.0" fill="#bcd0d6"/>
<circle cx="652.0" cy="192.0" r="1.4" fill="#bcd0d6"/>
<circle cx="656.0" cy="195.0" r="1.5" fill="#bcd0d6"/>
<circle cx="660.0" cy="193.0" r="1.6" fill="#bcd0d6"/>
<circle cx="664.0" cy="194.0" r="1.4" fill="#bcd0d6"/>
<circle cx="667.0" cy="192.0" r="1.2" fill="#bcd0d6"/>
<circle cx="650.0" cy="198.0" r="1.0" fill="#bcd0d6"/>
<path d="M576.2,208.8L582.5,206.2L588.8,203.8L595.0,201.2L601.2,202.0L603.8,206.2L600.0,211.2L595.0,215.0L596.2,221.2L592.5,225.0L588.8,222.5L587.5,226.2L583.8,228.8L581.2,223.8L580.0,217.5L577.5,213.8Z" fill="#dadada" style="stroke:#dadada;stroke-width:0.5"/>
<path d="M314.7,275.0L321.3,275.9L326.9,276.9L332.5,275.0L338.1,273.1L343.8,274.1L349.4,275.0L355.0,277.8L360.6,280.6L366.3,282.5L371.9,285.3L377.5,282.5L383.1,280.6L388.8,278.8L392.5,275.0L392.5,275.0L394.6,271.1L398.1,269.7L401.7,273.2L405.2,273.9L409.4,278.1L412.2,282.4L410.8,286.6L406.6,290.8L403.1,295.0L406.6,299.2L415.2,305.6L420.8,305.6L423.6,307.0L426.4,305.6L430.6,307.0L434.2,310.6L436.3,314.1L439.1,317.6L441.9,319.0L444.0,315.5L446.1,314.1L448.2,317.6L450.3,322.5L452.5,326.7L455.3,330.2L458.1,333.8L460.2,337.3L458.8,340.1L455.3,342.2L451.7,343.6L447.5,345.0L443.3,346.4L440.5,348.5L443.3,347.8L446.1,349.2L444.0,351.3L440.5,352.8L437.7,354.2L440.5,353.5L444.0,352.1L447.5,352.8L450.3,353.5L453.2,352.1L454.6,354.2L451.7,355.6L448.2,356.3L445.4,357.7L443.3,357.0L441.9,356.3L439.1,358.4L436.3,360.5L433.5,362.6L429.9,365.4L427.1,368.9L425.0,371.7L424.3,375.3L423.6,378.8L421.5,382.3L418.7,385.8L419.6,384.1L420.3,388.3L420.1,393.2L418.9,397.4L417.8,397.4L416.1,393.9L414.7,391.1L413.3,391.1L409.1,389.0L403.5,388.3L397.8,389.7L392.2,390.8L389.4,393.2L388.7,396.7L388.7,400.9L390.1,405.2L392.2,408.7L395.0,410.1L398.5,409.4L401.3,407.3L404.2,405.9L406.3,406.3L405.6,408.7L404.2,410.8L402.8,412.2L404.2,414.3L405.6,415.7L408.4,416.1L411.9,417.1L413.3,419.2L412.6,421.3L411.9,423.5L413.3,425.6L415.4,427.0L417.5,427.7L419.6,427.0L421.7,427.7L423.2,429.1L424.6,429.8L423.2,430.8L421.0,429.1L418.9,429.5L416.8,430.2L414.7,428.8L411.9,426.7L409.8,425.1L407.7,423.2L405.6,421.1L402.1,419.7L399.2,419.0L396.4,417.6L393.6,416.1L390.1,416.8L385.9,415.4L381.7,413.3L378.1,410.5L375.3,407.0L372.5,402.8L369.7,398.6L366.9,394.3L364.1,390.1L362.0,385.8L361.0,386.9L362.4,391.1L364.1,394.6L365.8,398.1L366.6,401.7L364.8,399.5L362.7,396.0L360.6,392.5L358.4,388.3L357.0,384.1L356.3,383.4L349.4,380.0L347.5,376.3L345.6,370.6L344.7,365.0L343.8,359.4L344.7,353.8L345.6,350.9L346.6,348.1L343.8,345.3L340.9,342.5L338.1,338.8L335.3,334.1L332.5,329.4L330.6,324.7L327.8,320.0L324.1,316.3L319.4,314.4L314.7,312.5L310.0,311.6L305.3,311.6L301.6,312.5L299.7,308.8L295.9,311.6L292.2,316.3L288.4,320.9L283.8,325.6L281.9,324.7L285.6,320.0L287.5,316.3L283.8,314.4L279.1,312.5L274.4,309.7L272.5,305.0L276.3,302.2L278.1,298.4L273.4,297.5L269.7,295.6L270.6,291.9L276.3,290.9L280.0,288.1L275.3,285.3L271.6,281.6L272.5,277.8L278.1,274.1L283.8,270.3L288.4,267.5L295.0,269.4L301.6,270.3L308.1,272.2Z" fill="#f8e2e0"/>
<path class="n" d="M394.1,312.7L396.2,308.4L399.7,304.9L404.6,302.8L410.2,303.5L411.7,300.0L422.2,300.0L420.8,305.6L423.6,308.4L422.9,314.1L423.6,318.3L425.7,321.8L425.7,326.0L422.9,328.8L420.8,331.7L422.2,335.2L421.5,339.4L418.7,340.8L416.6,338.0L415.9,333.1L413.8,328.8L410.2,326.7L406.0,325.3L402.5,323.2L398.3,321.1L396.2,317.6Z" fill="#ffffff"/>
<path class="n" d="M399.0,351.3L402.5,348.5L406.0,347.1L409.5,349.2L411.7,352.1L409.5,352.8L406.7,351.3L403.2,352.1L400.4,353.2Z" fill="#ffffff"/>
<path class="n" d="M406.0,355.6L408.1,354.2L408.8,359.1L408.1,363.3L406.4,364.0L406.0,359.8Z" fill="#ffffff"/>
<path class="n" d="M410.2,353.5L413.8,354.2L416.6,357.0L415.9,360.5L413.8,359.1L411.7,356.3Z" fill="#ffffff"/>
<path class="n" d="M414.5,363.3L418.7,361.9L422.2,359.8L422.9,360.8L419.4,363.3L415.9,364.7Z" fill="#ffffff"/>
<path class="n" d="M422.9,359.1L427.1,357.4L427.8,358.4L423.9,360.2Z" fill="#ffffff"/>
<path class="l" d="M438.4,350.6L434.9,353.5L430.6,355.6L427.8,358.0" stroke-width="0.8"/>
<path class="l" d="M315.1,275.0L315.1,312.5" stroke-width="0.8"/>
<path class="l" d="M346.6,346.3L392.5,346.3L398.1,350.0" stroke-width="0.8"/>
<path class="l" d="M356.3,383.4L359.8,384.1L364.1,386.2L368.3,384.8L372.5,386.2L376.0,389.7L379.5,392.5L383.1,394.6L386.6,396.0L388.7,396.7" stroke-width="0.8"/>
<path d="M456.7,342.2L459.5,340.8L461.6,343.6L463.7,347.1L463.0,349.2L460.2,348.5L457.4,347.1Z" fill="#f8e2e0" style="stroke:#f8e2e0;stroke-width:0.5"/>
<path d="M405.2,255.6L409.4,252.8L415.0,252.1L420.6,253.5L424.9,257.0L427.7,261.3L431.9,265.5L436.1,269.7L440.3,273.9L443.2,278.1L446.7,283.1L448.1,288.0L446.0,292.2L443.2,296.4L441.7,301.3L438.9,304.2L436.1,302.1L434.0,297.8L433.3,292.2L431.9,286.6L429.1,282.4L426.3,278.1L423.5,275.3L419.2,273.2L416.4,276.0L413.6,273.9L410.8,275.3L408.0,272.5L405.9,268.3L404.5,264.1L403.8,259.8Z" fill="#f8e2e0"/>
<path d="M408.0,292.2L412.2,290.8L417.1,292.2L418.5,296.4L415.0,299.2L410.8,298.5L408.3,295.7Z" fill="#f8e2e0"/>
<path d="M401.3,186.3L406.9,180.6L414.4,175.0L421.9,170.3L429.4,168.4L436.9,167.5L444.4,171.3L450.0,175.9L449.1,180.6L444.4,185.3L439.7,190.0L435.0,194.7L431.3,200.3L428.4,205.9L423.8,211.6L420.0,216.3L415.3,218.1L410.6,216.3L408.8,211.6L405.0,208.8L400.3,211.6L396.6,208.8L393.8,203.1L392.8,197.5L396.6,192.8L399.4,190.0Z" fill="#f8e2e0" style="stroke:#f8e2e0;stroke-width:2.2"/>
<path d="M399.4,235.0L405.0,233.1L412.5,234.1L418.1,235.9L419.1,240.6L414.4,243.4L407.8,244.4L402.2,242.5Z" fill="#f8e2e0" style="stroke:#f8e2e0;stroke-width:2.2"/>
<path d="M347.8,234.1L351.6,230.3L356.3,226.6L360.9,223.8L365.6,224.7L367.5,228.4L364.7,233.1L360.0,235.9L355.3,238.8L350.6,237.8Z" fill="#f8e2e0" style="stroke:#f8e2e0;stroke-width:2.2"/>
<path d="M375.0,211.6L382.5,214.4L386.3,220.0L380.6,222.8L375.9,218.1Z" fill="#f8e2e0" style="stroke:#f8e2e0;stroke-width:2.2"/>
<path d="M364.7,217.2L369.4,216.3L370.3,220.9L366.6,221.9Z" fill="#f8e2e0" style="stroke:#f8e2e0;stroke-width:2.2"/>
<path d="M386.3,233.1L391.9,231.3L394.7,236.9L390.0,240.6L386.3,238.8Z" fill="#f8e2e0" style="stroke:#f8e2e0;stroke-width:2.2"/>
<path d="M376.9,234.1L381.6,232.2L384.4,236.9L382.5,242.5L378.8,240.6Z" fill="#f8e2e0" style="stroke:#f8e2e0;stroke-width:2.2"/>
<path d="M343.1,249.1L348.8,247.2L355.3,250.0L358.1,255.6L356.3,262.2L351.6,266.9L345.9,267.8L342.2,262.2L341.6,254.7Z" fill="#f8e2e0" style="stroke:#f8e2e0;stroke-width:2.2"/>
<path d="M358.1,257.5L363.8,254.7L370.3,255.6L375.9,259.4L378.8,265.9L377.8,272.5L373.1,277.2L366.6,279.1L360.9,276.3L358.1,270.6L355.3,265.0Z" fill="#f8e2e0" style="stroke:#f8e2e0;stroke-width:2.2"/>
<path d="M384.4,252.8L390.0,250.9L394.7,253.8L395.6,261.3L393.8,268.8L389.1,272.5L385.3,268.8L383.4,261.3Z" fill="#f8e2e0" style="stroke:#f8e2e0;stroke-width:2.2"/>
<path d="M403.1,257.5L408.8,253.8L416.3,251.9L422.8,252.8L426.6,257.5L423.8,262.2L418.1,265.0L412.5,265.9L406.9,265.0L404.1,262.2Z" fill="#f8e2e0" style="stroke:#f8e2e0;stroke-width:2.2"/>
<path d="M404.1,220.0L410.6,219.1L417.2,221.9L418.1,228.4L412.5,231.3L405.9,229.4Z" fill="#f8e2e0" style="stroke:#f8e2e0;stroke-width:2.0"/>
<path d="M391.9,221.9L395.6,220.9L397.5,225.6L394.7,230.3L391.9,227.5Z" fill="#f8e2e0" style="stroke:#f8e2e0;stroke-width:1.5"/>
<path d="M367.5,234.1L374.1,232.2L375.9,236.9L372.2,240.6L367.5,238.8Z" fill="#f8e2e0" style="stroke:#f8e2e0;stroke-width:1.5"/>
<path d="M398.5,416.4L399.9,414.3L402.8,412.9L404.2,414.7L402.8,417.1L400.6,418.5L399.0,417.8Z" fill="#e8afa0" style="stroke:#e8afa0;stroke-width:0.5"/>
<path d="M404.9,417.1L408.4,416.1L411.9,417.1L409.8,418.5L407.0,419.2L405.1,418.5Z" fill="#e8afa0" style="stroke:#e8afa0;stroke-width:0.5"/>
<path d="M407.0,419.5L409.8,418.8L412.9,417.8L413.3,419.9L412.6,422.8L409.8,423.7L408.0,422.1Z" fill="#e8afa0" style="stroke:#e8afa0;stroke-width:0.5"/>
<path d="M416.8,403.1L419.6,403.5L423.2,405.2L426.7,406.9L427.7,408.0L425.3,407.7L421.7,406.3L418.2,404.5Z" fill="#96b2b9" style="stroke:#96b2b9;stroke-width:0.5"/>
<path d="M432.3,409.4L436.5,409.8L436.1,411.1L432.7,410.8Z" fill="#f8e2e0" style="stroke:#f8e2e0;stroke-width:0.5"/>
<path d="M423.2,430.5L424.6,427.7L428.1,425.1L431.6,424.2L434.1,426.3L436.1,424.6L438.6,425.6L442.8,426.0L447.1,426.3L451.3,427.4L454.8,429.8L457.6,432.6L461.1,433.6L464.0,434.0L467.5,434.7L468.9,437.5L470.0,439.6L472.5,442.5L480.0,445.0L487.5,448.8L493.8,452.5L496.2,456.2L493.8,462.5L490.0,468.8L487.5,476.2L486.2,482.5L481.2,485.0L475.0,488.8L472.5,495.0L467.5,501.2L463.8,506.2L460.0,507.5L456.2,506.2L455.0,510.0L452.5,513.8L450.0,517.5L446.2,520.0L447.5,525.0L443.8,527.5L442.5,532.5L440.0,537.5L438.8,542.5L440.0,547.5L442.5,552.5L443.8,556.2L440.0,555.0L436.2,552.5L432.5,546.2L431.2,538.8L432.0,530.0L433.8,522.5L432.5,515.0L435.0,506.2L436.2,497.5L437.5,487.5L436.2,481.2L431.2,476.2L426.2,470.0L422.5,463.8L418.8,456.2L417.5,450.0L420.0,443.8L423.8,440.0L425.0,435.0L423.8,428.8Z" fill="#f8e2e0"/>
<path d="M440.0,462.5L445.0,461.2L450.0,466.2L456.2,471.2L457.5,476.2L452.5,477.5L448.8,481.2L442.5,482.5L440.0,477.5L438.8,470.0Z" fill="#e8afa0"/>
<path d="M457.5,498.8L462.5,498.8L465.5,502.5L463.8,507.0L458.8,507.0L456.8,503.0Z" fill="#96b2b9"/>
<path class="l" d="M423.8,440.0L427.5,442.5L432.5,445.0L436.2,442.5L440.0,441.2L442.5,436.2L447.5,435.0L450.0,428.8" stroke-width="0.8"/>
<path class="l" d="M420.0,450.0L425.0,448.8L430.0,451.2L431.2,456.2L436.2,460.0L440.0,462.5" stroke-width="0.8"/>
<path class="l" d="M438.8,470.0L436.2,481.2" stroke-width="0.8"/>
<path class="l" d="M442.5,482.5L440.0,487.5L436.2,497.5L435.0,506.2L433.8,515.0L433.8,522.5L432.5,530.0L432.0,538.8L433.8,546.2" stroke-width="0.8"/>
<path class="l" d="M448.8,481.2L453.8,483.8L458.8,487.5L460.0,493.8L457.5,498.8" stroke-width="0.8"/>
<path class="l" d="M450.0,428.8L453.8,432.5L456.2,437.5L461.2,436.2L465.0,438.8L467.5,435.0" stroke-width="0.8"/>
<path d="M463.7,434.0L466.8,433.7L467.9,435.8L466.8,438.9L464.5,438.9L463.4,436.4Z" fill="#b84a45" style="stroke:#b84a45;stroke-width:0.3"/>
<path d="M752.5,485.0L756.2,481.2L762.5,477.5L767.5,473.8L771.2,471.2L776.2,468.8L781.2,465.5L786.2,464.5L790.0,467.0L792.5,470.0L796.2,472.5L800.0,473.8L801.2,467.5L802.5,463.8L804.5,467.0L806.2,472.5L808.8,477.5L812.5,481.2L816.2,485.0L818.8,490.0L820.0,496.2L818.8,502.5L816.2,507.5L812.5,512.5L807.5,514.5L802.5,513.8L797.5,510.0L793.8,505.0L788.8,502.5L783.8,501.2L777.5,501.2L771.2,502.5L765.0,505.0L758.8,506.2L755.0,503.8L754.5,497.5L753.0,491.2Z" fill="#f8e2e0"/>
<path d="M806.2,521.2L811.2,521.2L810.0,525.5L807.5,525.0Z" fill="#f8e2e0" style="stroke:#f8e2e0;stroke-width:0.5"/>
<path d="M856.2,515.0L858.8,513.8L862.5,514.5L861.2,518.8L858.8,520.5L857.0,518.0Z" fill="#f8e2e0" style="stroke:#f8e2e0;stroke-width:0.5"/>
<path d="M844.5,530.0L847.5,526.2L852.0,522.5L856.2,521.2L855.0,525.0L851.2,528.8L847.5,533.0L845.0,533.8Z" fill="#f8e2e0" style="stroke:#f8e2e0;stroke-width:0.5"/>
<path d="M783.1,445.0L786.2,444.8L786.9,446.2L790.0,447.8L793.1,446.9L796.2,447.8L798.1,449.4L800.0,448.8L800.0,458.1L798.1,457.5L795.0,455.6L791.9,453.8L788.8,451.9L785.6,450.0L786.2,448.1L783.5,446.2Z" fill="#f8e2e0" style="stroke:#f8e2e0;stroke-width:0.5"/>
<path d="M800.0,448.8L803.1,449.8L806.2,451.9L808.8,454.4L810.6,457.5L813.1,460.0L811.9,460.6L809.4,458.8L806.9,456.9L804.4,457.5L801.9,458.8L800.0,458.1Z" fill="#e8afa0" style="stroke:#e8afa0;stroke-width:0.5"/>
<path d="M813.8,453.1L815.6,452.5L816.0,453.5L814.4,454.0Z" fill="#e8afa0" style="stroke:#e8afa0;stroke-width:0.5"/>
<path class="l" d="M581.7,336.0L582.2,338.5L582.6,340.6L583.0,341.5" stroke-width="0.8"/>
<path class="l" d="M597.8,336.0L597.4,338.5L598.2,341.1L597.4,343.6L596.5,345.3" stroke-width="0.8"/>
<path class="l" d="M598.2,339.4L601.6,338.5L605.8,339.4L610.0,339.8L612.1,338.1L614.2,337.7L615.9,339.4L618.5,341.5L621.8,343.2L625.2,344.4L626.1,346.6L625.2,348.7L623.5,350.3L622.7,351.6" stroke-width="0.8"/>
<path class="l" d="M588.5,344.0L591.5,345.3L594.4,345.7L596.5,345.3" stroke-width="0.8"/>
<path class="l" d="M594.4,350.8L597.4,349.5L600.7,348.7L604.1,349.5L605.8,351.2L607.1,353.7L606.6,355.8L604.5,357.1L601.6,357.5L598.2,357.1L595.7,355.8L594.0,353.3L594.4,350.8" stroke-width="0.8"/>
<path class="l" d="M604.1,349.5L606.6,350.3L607.9,352.9L607.5,354.7" stroke-width="0.8"/>
<path class="l" d="M578.1,344.9L578.8,347.4L581.3,348.7L584.7,347.8L587.7,347.4L588.5,346.1L588.5,344.0" stroke-width="0.8"/>
<path class="l" d="M587.7,347.4L588.5,349.9L591.5,350.8L594.4,350.8L596.5,348.7L596.5,345.7" stroke-width="0.8"/>
<path class="l" d="M588.5,349.9L589.8,352.9L591.5,355.4L593.1,357.1L595.7,356.3" stroke-width="0.8"/>
<path class="l" d="M595.7,356.3L596.5,359.6L598.2,361.3L601.6,361.7L604.5,361.3" stroke-width="0.8"/>
<path class="l" d="M593.1,363.9L595.7,363.0L598.2,361.3" stroke-width="0.8"/>
<path class="l" d="M581.3,348.7L580.5,351.2L580.1,355.0" stroke-width="0.8"/>
<path class="l" d="M584.7,347.8L585.1,351.2L583.9,353.7L585.1,356.3L587.2,358.4L589.3,360.5" stroke-width="0.8"/>
<path class="l" d="M589.3,360.5L590.6,363.0L590.2,365.5" stroke-width="0.8"/>
<path class="l" d="M591.5,355.4L591.0,358.8L593.1,360.5L593.1,363.9" stroke-width="0.8"/>
<path class="l" d="M574.1,352.0L575.8,351.6L578.1,350.8L578.8,347.4" stroke-width="0.8"/>
<path class="l" d="M569.9,352.5L570.8,354.1L571.6,355.0" stroke-width="0.8"/>
<path class="l" d="M595.4,331.7L597.5,335.2L598.2,340.1L596.1,343.6" stroke-width="0.8"/>
<path class="l" d="M598.9,320.8L605.3,319.7L606.7,325.3" stroke-width="0.8"/>
<path class="l" d="M595.4,326.4L602.5,326.4L606.7,325.3L608.8,327.4L613.0,330.2L614.1,335.2L614.4,339.4" stroke-width="0.8"/>
<path class="l" d="M602.5,326.7L603.9,330.2L598.9,332.1L595.4,331.7" stroke-width="0.8"/>
<path class="l" d="M598.9,333.8L599.6,338.0L604.6,338.7L610.2,338.0L614.1,335.2" stroke-width="0.8"/>
<path class="l" d="M582.8,333.1L582.8,337.3L584.2,340.8L587.7,342.9" stroke-width="0.8"/>
<path class="l" d="M544.1,362.6L544.8,367.5L543.8,373.2" stroke-width="0.8"/>
<path class="n" d="M432.8,219.7L436.3,216.9L439.8,214.8L443.4,212.7L445.5,209.2L444.1,205.6L442.0,201.4L444.1,198.6L447.6,195.8L451.1,192.3L453.2,187.4L455.3,183.1L458.1,181.0L462.4,180.3L466.6,179.6L470.8,178.2L475.0,176.8L477.1,172.6L479.2,169.8L482.8,167.7L486.3,169.1L489.8,167.0L491.2,163.4L494.7,161.3L498.9,160.6L503.2,160.3L507.4,161.3L510.9,163.4L512.3,166.3L514.4,169.8L517.9,171.9L519.3,174.7L516.5,177.5L513.0,180.3L510.2,182.4L514.4,183.1L518.6,182.4L520.7,185.2L520.0,189.5L522.8,188.1L527.1,185.9L530.6,184.5L534.8,185.9L536.2,188.8L534.1,192.3L531.3,195.8L528.5,198.6L526.4,202.1L525.0,205.6L522.8,209.9L521.4,214.1L520.7,219.0L521.4,223.9L522.8,228.2L522.1,232.4L521.4,236.6L522.8,240.8L524.3,245.0L524.4,243.4L521.6,247.7L519.5,251.2L516.7,251.9L515.3,254.7L517.4,258.2L518.8,262.4L519.5,267.4L518.1,270.2L515.3,273.0L511.7,275.1L508.9,277.2L505.4,279.3L501.9,280.7L499.8,283.5L497.7,287.1L494.9,289.9L491.3,292.0L488.5,294.1L486.4,297.6L485.0,301.8L483.6,306.0L482.2,310.3L480.8,312.7L478.7,311.7L475.9,309.6L473.1,307.5L471.7,303.9L470.2,299.7L468.8,295.5L466.7,291.3L465.3,287.1L466.0,283.5L468.1,280.0L469.5,275.8L468.1,271.6L466.0,268.1L463.2,265.2L462.5,261.7L461.8,257.5L461.1,253.3L459.7,249.1L458.3,244.8L457.4,245.0L456.0,242.9L453.9,239.4L451.1,236.6L447.6,234.5L443.4,233.1L439.8,233.8L437.7,231.7L436.3,228.9L439.8,228.2L443.4,226.7L442.0,224.6L437.7,223.9L433.5,222.5Z" fill="#96b2b9"/>
<path class="n" d="M500.3,167.0L508.8,165.3L511.9,166.8L503.9,169.1Z" fill="#ffffff"/>
<path class="n" d="M500.3,184.8L506.0,180.6L513.0,178.6L514.7,181.0L507.7,183.4L503.4,187.1Z" fill="#ffffff"/>
<path class="n" d="M516.5,196.1L519.8,186.2L521.9,185.4L519.2,194.7Z" fill="#ffffff"/>
<path class="l" d="M456.0,183.1L458.1,187.4" stroke-width="1.2"/>
<path class="l" d="M465.9,180.0L470.1,185.2" stroke-width="1.2"/>
<path class="l" d="M472.2,177.5L475.0,182.4" stroke-width="1.0"/>
<path class="l" d="M478.5,170.5L480.6,176.1" stroke-width="1.2"/>
<path class="l" d="M484.2,168.4L487.7,176.1" stroke-width="1.4"/>
<path class="n" d="M507.5,270.9L510.3,268.1L513.2,265.2L516.0,266.7L513.2,269.5L510.3,272.3Z" fill="#ffffff"/>
<path class="n" d="M510.3,257.5L515.3,254.0L516.7,256.1L512.5,260.3Z" fill="#ffffff"/>
<path class="n" d="M463.6,270.2L467.4,267.1L470.0,270.2L467.4,275.5L464.2,274.4Z" fill="#ffffff"/>
</svg>
<h1 class="title"><span class="l1">Vorausgeschätztes Bevölkerungswachstum weltweit,</span><span class="l2">in Prozent, 2022 bis 2050</span></h1>
<ul class="legend">
<li><i style="background:#7aa3ae"></i><span>unter 0</span></li>
<li><i style="background:#f8dad6"></i><span>0 bis unter 25</span></li>
<li><i style="background:#e49b87"></i><span>25 bis unter 50</span></li>
<li><i style="background:#c03030"></i><span>50 bis unter 75</span></li>
<li><i style="background:#6e1814"></i><span style="transform:scaleX(0.895)">75 und mehr</span></li>
<li><i style="background:#d4d4d4"></i><span style="transform:scaleX(0.89)">keine Daten</span></li>
</ul>
<div class="foot">(Datengrundlage: UN DESA)</div>
<div class="logo">
<b style="left:828.3px;top:81.9px;background:#1b5a6a"></b>
<b style="left:828.3px;top:93.3px;background:#1b5a6a"></b>
<b style="left:828.3px;top:104.6px;background:#1b5a6a"></b>
<b style="left:840.2px;top:93.3px;background:#6f948a"></b>
<b style="left:840.2px;top:104.6px;background:#6f948a"></b>
<b style="left:852.8px;top:70.2px;background:#c5d1a3"></b>
<b style="left:852.8px;top:81.9px;background:#c5d1a3"></b>
<b style="left:852.8px;top:93.3px;background:#c5d1a3"></b>
<div class="t1">Berlin-Institut</div>
<div class="t2">für Bevölkerung</div>
<div class="t3">und Entwicklung</div>
</div>
</body>
</html>
